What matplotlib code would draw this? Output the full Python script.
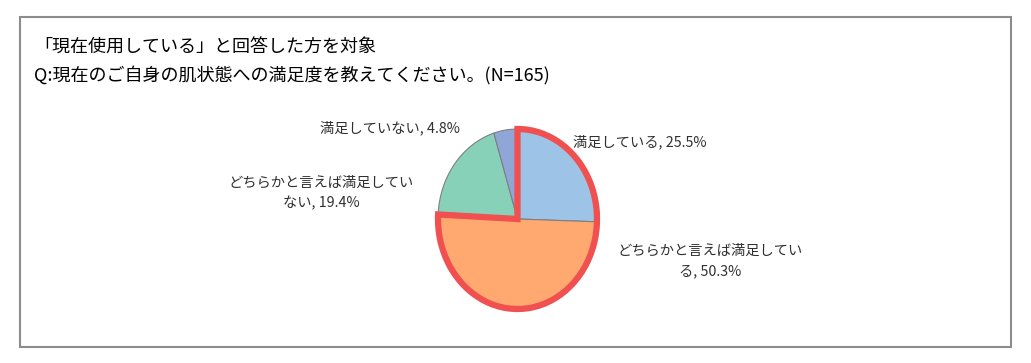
import matplotlib.pyplot as plt
from matplotlib.patches import Wedge, Rectangle

plt.rcParams['font.family'] = ['Noto Sans CJK JP', 'DejaVu Sans']

title_lines = ["「現在使用している」と回答した方を対象",
               "Q:現在のご自身の肌状態への満足度を教えてください。(N=165)"]
categories = ["満足している", "どちらかと言えば満足している",
              "どちらかと言えば満足していない", "満足していない"]
values = [25.5, 50.3, 19.4, 4.8]
colors = ["#9DC3E6", "#FFA971", "#88D1B9", "#8FA6D6"]
highlight = [0, 1]  # slices outlined in red

W, H = 1031, 363
fig = plt.figure(figsize=(W / 100, H / 100), dpi=100)

# outer frame
fig.patches.append(Rectangle((20 / W, 1 - 347 / H), 991 / W, 330 / H,
                             transform=fig.transFigure, fill=False,
                             edgecolor="#8c8c8c", linewidth=1.5))

fig.text(34 / W, 1 - 48 / H, title_lines[0], fontsize=13, va="center")
fig.text(34 / W, 1 - 76 / H, title_lines[1], fontsize=13, va="center")

# pie axes, stretched to give the slightly tall ellipse of the original
ax = fig.add_axes([438 / W, 1 - 309 / H, 159 / W, 180 / H])
ax.pie(values, colors=colors, startangle=90, counterclock=False,
       wedgeprops=dict(edgecolor="#7f7f7f", linewidth=0.8))
ax.set_aspect("auto")
ax.set_xlim(-1, 1)
ax.set_ylim(-1, 1)
ax.axis("off")

# red outline around the highlighted slices
start = 90
ang = [v / sum(values) * 360 for v in values]
hl_end = start - sum(ang[i] for i in highlight)
ax.add_patch(Wedge((0, 0), 1, hl_end, start, fill=False,
                   edgecolor="#F05050", linewidth=4.5, joinstyle="miter",
                   clip_on=False))

# data labels
label_text = [
    f"{categories[0]}, {values[0]}%",
    "どちらかと言えば満足してい\nる, " + f"{values[1]}%",
    "どちらかと言えば満足してい\nない, " + f"{values[2]}%",
    f"{categories[3]}, {values[3]}%",
]
label_pos = [(640, 142), (710, 261), (321, 193), (390, 128)]
for txt, (x, y) in zip(label_text, label_pos):
    fig.text(x / W, 1 - y / H, txt, fontsize=10.3, ha="center", va="center",
             linespacing=1.6, color="#303030")

fig.savefig("out.png", dpi=100)
